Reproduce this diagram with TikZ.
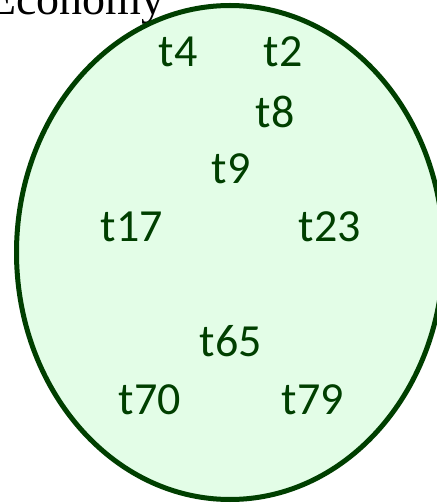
\documentclass[tikz,border=0pt]{standalone}
\usepackage{fontspec}
\setmainfont{Liberation Serif}
\newfontfamily\labelfont{Carlito}
\usepackage{tikz}
\usetikzlibrary{calc}
\definecolor{setfill}{HTML}{E3FDE7}
\definecolor{setline}{HTML}{003F00}
\tikzset{
  setlabel/.style={font=\labelfont\fontsize{23}{26}\selectfont,text=setline,inner sep=0pt}
}

\begin{document}
\begin{tikzpicture}[x=0.5pt,y=0.5pt]
            % Frame
            \useasboundingbox (0,0) rectangle (437,504);
            \clip (0,0) rectangle (437,504);
            % Title
            \node[anchor=base west,inner sep=0pt,font=\fontsize{23}{26}\selectfont] (title) at (-12,489) {Economy};
            % Set
            \filldraw[fill=setfill,draw=setline,line width=2.5pt] (230,251.5) ellipse [x radius=213.5,y radius=247];
            % Members
            \foreach \name/\x/\y in {t4/178/452, t2/283/452, t8/275/392, t9/231/335,
                                     t17/132/277, t23/330/277, t65/231/163,
                                     t70/150/104, t79/313/104} {
                \node[setlabel] (\name) at (\x,\y) {\name};
            }
\end{tikzpicture}
\end{document}
